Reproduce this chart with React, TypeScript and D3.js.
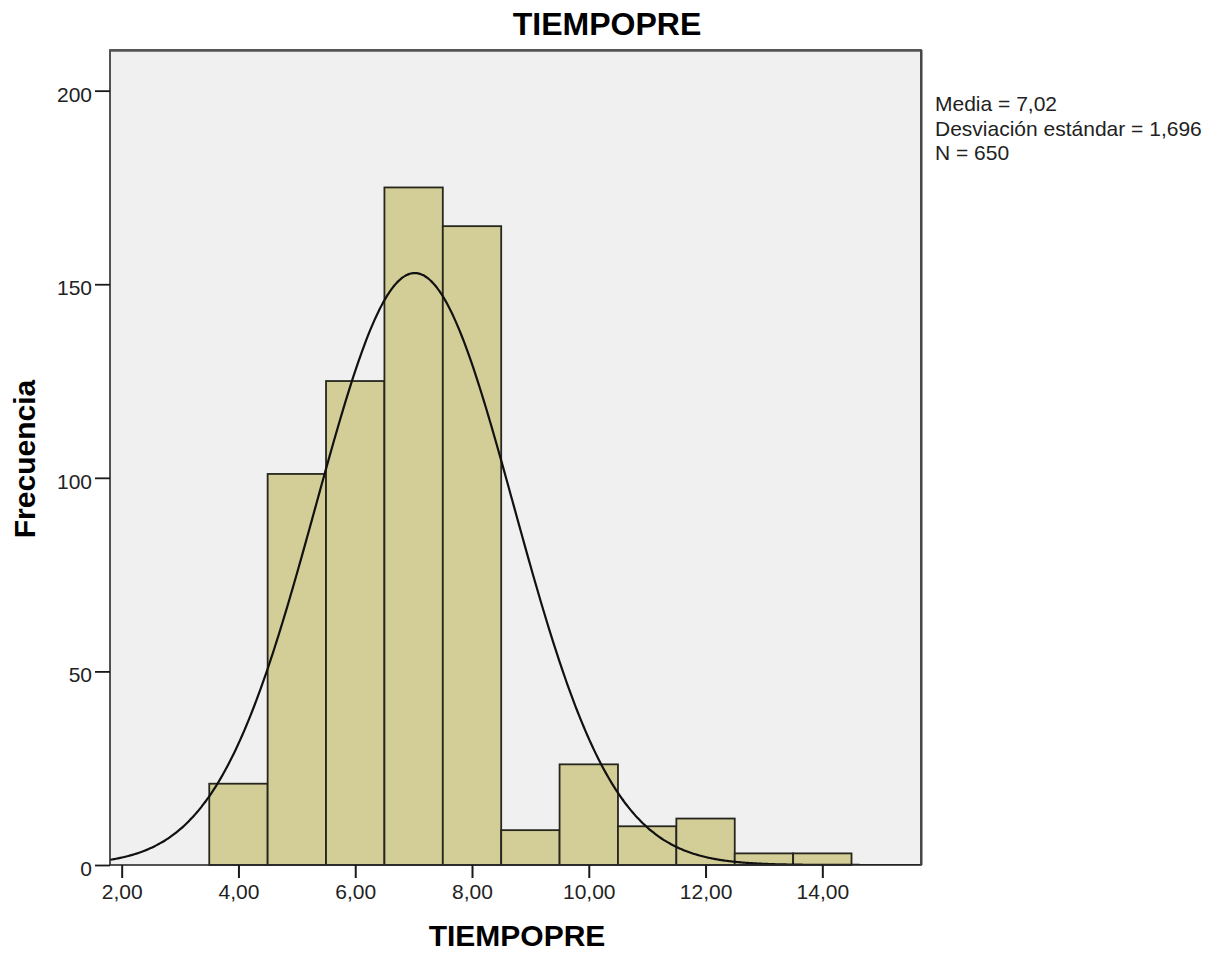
import React, { useRef, useEffect } from "react";
import * as d3 from "d3";

// histogram bins (midpoints, width 1) and their frequencies
const binMids = [4, 5, 6, 7, 8, 9, 10, 11, 12, 13, 14];
const frequencies = [21, 101, 125, 175, 165, 9, 26, 10, 12, 3, 3];
const binWidth = 1;

const xTicks = [2, 4, 6, 8, 10, 12, 14];
const yTicks = [0, 50, 100, 150, 200];

// summary statistics shown in the legend
const mean = 7.02;
const stdDev = 1.696;
const total = 650;

const title = "TIEMPOPRE";
const xLabel = "TIEMPOPRE";
const yLabel = "Frecuencia";

const esLocale = d3.formatLocale({
  decimal: ",",
  thousands: ".",
  grouping: [3],
  currency: ["", " €"],
});

export default function App() {
  const svgRef = useRef<SVGSVGElement>(null);

  useEffect(() => {
    const width = 1229;
    const height = 955;
    const plot = { left: 110, right: 921, top: 50, bottom: 865 };
    const font = "'Liberation Sans', Arial, sans-serif";

    const svg = d3.select(svgRef.current);
    svg.selectAll("*").remove();
    svg.attr("width", width).attr("height", height);

    svg.append("rect").attr("width", width).attr("height", height).attr("fill", "#fff");

    const x = d3.scaleLinear().domain([1.8, 15.69]).range([plot.left, plot.right]);
    const y = d3.scaleLinear().domain([0, 210.5]).range([plot.bottom, plot.top]);

    // plot background
    svg.append("rect")
      .attr("x", plot.left)
      .attr("y", plot.top)
      .attr("width", plot.right - plot.left)
      .attr("height", plot.bottom - plot.top)
      .attr("fill", "#f0f0f0");

    svg.append("clipPath")
      .attr("id", "plot-clip")
      .append("rect")
      .attr("x", plot.left)
      .attr("y", plot.top)
      .attr("width", plot.right - plot.left)
      .attr("height", plot.bottom - plot.top);

    // bars
    svg.append("g")
      .selectAll("rect")
      .data(binMids.map((m, i) => ({ m, v: frequencies[i] })))
      .join("rect")
      .attr("x", d => x(d.m - binWidth / 2))
      .attr("y", d => y(d.v))
      .attr("width", d => x(d.m + binWidth / 2) - x(d.m - binWidth / 2))
      .attr("height", d => y(0) - y(d.v))
      .attr("fill", "#d3ce97")
      .attr("stroke", "#26261e")
      .attr("stroke-width", 1.8);

    // normal curve from the reported mean / sd / N
    const normal = (t: number) =>
      (total * binWidth) / (stdDev * Math.sqrt(2 * Math.PI)) *
      Math.exp(-0.5 * ((t - mean) / stdDev) ** 2);
    const curvePts = d3.range(400).map(i => {
      const t = x.domain()[0] + (i / 399) * (x.domain()[1] - x.domain()[0]);
      return [t, normal(t)] as [number, number];
    });
    svg.append("path")
      .datum(curvePts)
      .attr("clip-path", "url(#plot-clip)")
      .attr("fill", "none")
      .attr("stroke", "#111")
      .attr("stroke-width", 2.2)
      .attr("d", d3.line<[number, number]>().x(d => x(d[0])).y(d => y(d[1])).curve(d3.curveBasis));

    // frame
    svg.append("rect")
      .attr("x", plot.left)
      .attr("y", plot.top)
      .attr("width", plot.right - plot.left)
      .attr("height", plot.bottom - plot.top)
      .attr("fill", "none")
      .attr("stroke", "#2a2a2a")
      .attr("stroke-width", 1.6);
    svg.append("line")
      .attr("x1", plot.left).attr("x2", plot.right)
      .attr("y1", plot.top + 0.5).attr("y2", plot.top + 0.5)
      .attr("stroke", "#555").attr("stroke-width", 2.5);
    svg.append("line")
      .attr("x1", plot.right + 0.5).attr("x2", plot.right + 0.5)
      .attr("y1", plot.top).attr("y2", plot.bottom)
      .attr("stroke", "#444").attr("stroke-width", 2);

    // y axis
    const yAxis = svg.append("g")
      .attr("transform", `translate(${plot.left},0)`)
      .call(d3.axisLeft(y).tickValues(yTicks).tickSize(15).tickPadding(3).tickFormat(d3.format("d")));
    yAxis.select(".domain").remove();
    yAxis.selectAll(".tick line").attr("stroke", "#1a1a1a").attr("stroke-width", 1.8);
    yAxis.selectAll(".tick text")
      .attr("dy", "0.5em")
      .attr("fill", "#222")
      .style("font-family", font)
      .style("font-size", "21px");

    // x axis
    const xAxis = svg.append("g")
      .attr("transform", `translate(0,${plot.bottom})`)
      .call(d3.axisBottom(x).tickValues(xTicks).tickSize(13).tickPadding(6).tickFormat(esLocale.format(".2f")));
    xAxis.select(".domain").remove();
    xAxis.selectAll(".tick line").attr("stroke", "#1a1a1a").attr("stroke-width", 2);
    xAxis.selectAll(".tick text")
      .attr("fill", "#222")
      .style("font-family", font)
      .style("font-size", "21px");

    // titles
    svg.append("text")
      .attr("x", 607)
      .attr("y", 35)
      .attr("text-anchor", "middle")
      .style("font-family", font)
      .style("font-size", "32px")
      .style("font-weight", "bold")
      .text(title);

    svg.append("text")
      .attr("x", 517)
      .attr("y", 946)
      .attr("text-anchor", "middle")
      .style("font-family", font)
      .style("font-size", "30px")
      .style("font-weight", "bold")
      .text(xLabel);

    svg.append("text")
      .attr("transform", "translate(35,459) rotate(-90)")
      .attr("text-anchor", "middle")
      .style("font-family", font)
      .style("font-size", "30px")
      .style("font-weight", "bold")
      .text(yLabel);

    // legend
    const legendLines = [
      `Media = ${esLocale.format(".2f")(mean)}`,
      `Desviación estándar = ${esLocale.format(".3f")(stdDev)}`,
      `N = ${total}`,
    ];
    svg.append("g")
      .selectAll("text")
      .data(legendLines)
      .join("text")
      .attr("x", 935)
      .attr("y", (d, i) => 111 + i * 24.5)
      .attr("fill", "#222")
      .style("font-family", font)
      .style("font-size", "21px")
      .text(d => d);
  }, []);

  return (
    <div style={{ position: "absolute", left: 0, top: 0 }}>
      <svg ref={svgRef} style={{ display: "block" }}></svg>
    </div>
  );
}
